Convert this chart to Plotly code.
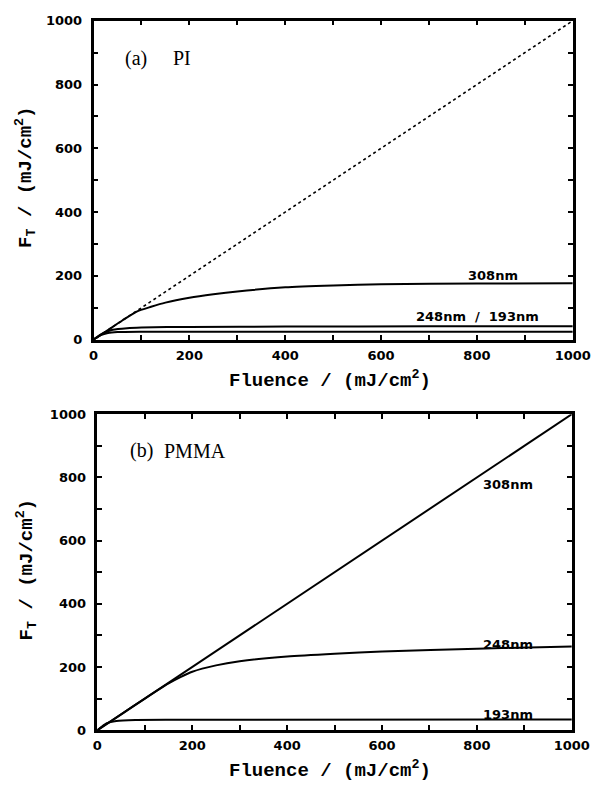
import plotly.graph_objects as go

# ---------------- data ----------------
ref_x = [0, 1000]
ref_y = [0, 1000]

pi_308_x = [0, 30, 60, 90, 120, 150, 200, 250, 300, 400, 500, 600, 800, 1000]
pi_308_y = [0, 30, 60, 88, 103, 116, 131, 142, 151, 164, 170, 174, 176, 177]
pi_248_x = [0, 20, 40, 70, 100, 200, 400, 700, 1000]
pi_248_y = [0, 20, 31, 36, 38, 40, 41, 42, 42]
pi_193_x = [0, 15, 30, 50, 100, 1000]
pi_193_y = [0, 14, 21, 24, 25, 25]

pmma_308_x = [0, 1000]
pmma_308_y = [0, 1000]
pmma_248_x = [0, 50, 100, 150, 175, 200, 250, 300, 400, 500, 600, 800, 1000]
pmma_248_y = [0, 50, 100, 148, 168, 185, 205, 218, 233, 242, 249, 258, 265]
pmma_193_x = [0, 20, 40, 80, 200, 1000]
pmma_193_y = [0, 22, 29, 32, 33, 34]

tick_vals = [0, 200, 400, 600, 800, 1000]
tick_text = ["0", "200", "400", "600", "800", "1000"]

W, H = 611, 798
fig = go.Figure()

line_w = 2
fig.add_trace(go.Scatter(x=ref_x, y=ref_y, mode="lines", line=dict(color="black", width=1.6, dash="dot"), xaxis="x", yaxis="y"))
fig.add_trace(go.Scatter(x=pi_308_x, y=pi_308_y, mode="lines", line=dict(color="black", width=line_w, shape="spline", smoothing=0.6), xaxis="x", yaxis="y"))
fig.add_trace(go.Scatter(x=pi_248_x, y=pi_248_y, mode="lines", line=dict(color="black", width=line_w, shape="spline", smoothing=0.6), xaxis="x", yaxis="y"))
fig.add_trace(go.Scatter(x=pi_193_x, y=pi_193_y, mode="lines", line=dict(color="black", width=line_w, shape="spline", smoothing=0.6), xaxis="x", yaxis="y"))

fig.add_trace(go.Scatter(x=pmma_308_x, y=pmma_308_y, mode="lines", line=dict(color="black", width=line_w), xaxis="x2", yaxis="y2"))
fig.add_trace(go.Scatter(x=pmma_248_x, y=pmma_248_y, mode="lines", line=dict(color="black", width=line_w, shape="spline", smoothing=0.6), xaxis="x2", yaxis="y2"))
fig.add_trace(go.Scatter(x=pmma_193_x, y=pmma_193_y, mode="lines", line=dict(color="black", width=line_w, shape="spline", smoothing=0.5), xaxis="x2", yaxis="y2"))

tickfont = dict(family="DejaVu Sans", size=13, color="black", weight="bold")

def xax(domain, anchor):
    return dict(domain=domain, anchor=anchor, range=[0, 1000], tickvals=tick_vals, ticktext=tick_text,
                ticks="inside", ticklen=5, tickwidth=1.5, tickcolor="black",
                minor=dict(dtick=100, ticks="inside", ticklen=5, tickwidth=1.5, tickcolor="black"),
                showline=True, linecolor="black", linewidth=2.5, mirror="ticks",
                showgrid=False, zeroline=False, tickfont=tickfont, ticklabelstandoff=2)

def yax(domain, anchor):
    return dict(domain=domain, anchor=anchor, range=[0, 1000], tickvals=tick_vals, ticktext=tick_text,
                ticks="inside", ticklen=5, tickwidth=1.5, tickcolor="black",
                minor=dict(dtick=100, ticks="inside", ticklen=5, tickwidth=1.5, tickcolor="black"),
                showline=True, linecolor="black", linewidth=2.5, mirror="ticks",
                showgrid=False, zeroline=False, tickfont=tickfont, ticklabelstandoff=6)

fig.update_layout(
    width=W, height=H, margin=dict(l=0, r=0, t=0, b=0),
    paper_bgcolor="white", plot_bgcolor="white", showlegend=False,
    xaxis=xax([92 / W, 590 / W], "y"),
    yaxis=yax([1 - 339 / H, 1 - 14 / H], "x"),
    xaxis2=xax([96 / W, 589 / W], "y2"),
    yaxis2=yax([1 - 737 / H, 1 - 415 / H], "x2"),
)

lblfont = dict(family="DejaVu Sans", size=13, color="black", weight="bold")
serif = dict(family="Liberation Serif", size=20, color="black")
xtitlefont = dict(family="Liberation Mono", size=19, color="black", weight="bold")
ytitlefont = dict(family="Liberation Mono", size=19, color="black", weight="bold")

ann = []
def add(**kw):
    kw.setdefault("showarrow", False)
    kw.setdefault("xanchor", "center")
    kw.setdefault("yanchor", "middle")
    ann.append(kw)

# curve labels
add(x=833, y=200, xref="x", yref="y", text="308nm", font=lblfont)
add(x=801, y=72, xref="x", yref="y", text="248nm  /  193nm", font=lblfont)
add(x=866, y=776, xref="x2", yref="y2", text="308nm", font=lblfont)
add(x=866, y=272, xref="x2", yref="y2", text="248nm", font=lblfont)
add(x=866, y=48, xref="x2", yref="y2", text="193nm", font=lblfont)
# panel labels
add(x=123 / W, y=1 - 52 / H, xref="paper", yref="paper", xanchor="left", text="(a)", font=serif)
add(x=173 / W, y=1 - 52 / H, xref="paper", yref="paper", xanchor="left", text="PI", font=serif)
add(x=128 / W, y=1 - 452 / H, xref="paper", yref="paper", xanchor="left", text="(b)", font=serif)
add(x=163 / W, y=1 - 452 / H, xref="paper", yref="paper", xanchor="left", text="PMMA", font=serif)
# axis titles
xt = "Fluence / (mJ/cm<sup>2</sup>)"
yt = "F<sub>T</sub> / (mJ/cm<sup>2</sup>)"
add(x=338 / W, y=1 - 380 / H, xref="paper", yref="paper", text=xt, font=xtitlefont)
add(x=338 / W, y=1 - 777 / H, xref="paper", yref="paper", text=xt, font=xtitlefont)
add(x=22 / W, y=1 - 174 / H, xref="paper", yref="paper", text=yt, textangle=-90, font=ytitlefont)
add(x=22 / W, y=1 - 574 / H, xref="paper", yref="paper", text=yt, textangle=-90, font=ytitlefont)
fig.update_layout(annotations=ann)

fig.write_html("out.html")
